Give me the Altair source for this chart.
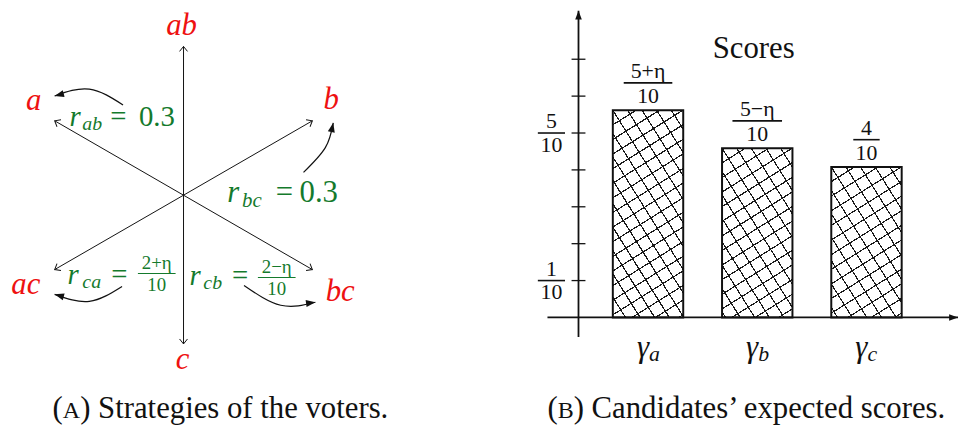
import math
import altair as alt
import pandas as pd

SERIF = "Liberation Serif"
RED = "#ee1111"
GREEN = "#147a2c"
BLACK = "#111111"

# ---------------- Panel A: strategies of the voters ----------------
strategies = ["ab", "a", "b", "ac", "bc", "c"]
strategy_angles = [90, 150, 30, 210, 330, 270]          # direction of each arm (deg, ccw)
ARM = 150                                                # arm length (diagram px)
label_x = [-2, -151, 149, -159, 158, -1]                 # red label anchors (diagram px)
label_y = [162, 86, 87, -100, -107, -175]

# rate annotations, split in pieces: text, x, y, font size, italic
rate_text = ["r", "ab", "=", "0.3", "r", "bc", "=", "0.3", "r", "ca", "=", "r", "cb", "="]
rate_x = [-115, -102, -74, -45, 44, 59, 93, 117, -117, -102, -73, 6, 20, 49]
rate_y = [70, 66, 70, 70, -7, -12, -7, -7, -90, -94, -90, -91, -95, -91]
rate_size = [29, 20, 29, 29, 31, 21, 31, 31, 29, 20, 29, 29, 20, 29]
rate_italic = [1, 1, 0, 0, 1, 1, 0, 0, 1, 1, 0, 1, 1, 0]

# fractional rates: centre x, fraction-line y, numerator, denominator, half width
fracA_cx = [-27, 94]
fracA_ly = [-79, -83]
fracA_num = ["2+η", "2−η"]
fracA_den = ["10", "10"]
fracA_hw = [19, 19]

# curved arrows (three guide points each) and arrow-head angles
curve_names = ["ab", "bc", "ca", "cb"]
curve_px = [[-61, -95, -130], [121, 143, 151], [-62, -95, -130], [61, 98, 133]]
curve_py = [[91, 107, 100], [23, 48, 73], [-92, -107, -100], [-91, -111, -108]]
curve_head_angle = [165, 282, 195, 352]

# ---------------- Panel B: candidates' expected scores ----------------
candidates = ["a", "b", "c"]
candidate_pos = [1, 2, 3]
scores = [0.562, 0.459, 0.408]
score_num = ["5+η", "5−η", "4"]
score_den = ["10", "10", "10"]
score_frac_hw_px = [24.5, 25, 13.3]
ytick_values = [0.1, 0.2, 0.3, 0.4, 0.5, 0.6, 0.7]
ylabel_values = [0.1, 0.5]
ylabel_num = ["1", "5"]
ylabel_den = ["10", "10"]

# captions: opening bracket, small-caps letter, rest
caption_parts_a = ["(", "A", ") Strategies of the voters."]
caption_parts_b = ["(", "B", ") Candidates’ expected scores."]

# ---------------- scales ----------------
def scale(domain, rng):
    return alt.Scale(domain=domain, range=rng, nice=False, zero=False)

xA = scale([0, 150], [177, 327])
yA = scale([0, 150], [187, 37])
PXU = 110.15            # px per category slot in panel B
PXV = 372.0             # px per score unit
xB = scale([1, 3], [645.4, 645.4 + 2 * PXU])
yB = scale([0, 0.8], [310.3, 310.3 - 0.8 * PXV])

OPEN_HEAD = "M-1,-0.8L0,0L-1,0.8"
FILLED_HEAD = "M0,0L-2,-0.75L-2,0.75Z"


def XA(f):
    return alt.X(f, scale=xA, axis=None)


def YA(f):
    return alt.Y(f, scale=yA, axis=None)


def XB(f):
    return alt.X(f, scale=xB, axis=None)


def YB(f):
    return alt.Y(f, scale=yB, axis=None)


def caption(parts, x0, y0, size):
    w_paren = 0.333 * size
    sc = size * 0.78
    w_cap = {"A": 0.722, "B": 0.667}[parts[1]] * sc
    df = pd.DataFrame({"t": parts})
    layers = []
    xs = [x0, x0 + w_paren, x0 + w_paren + w_cap]
    sizes = [size, sc, size]
    for i in range(3):
        layers.append(alt.Chart(df).transform_filter(f"datum.t == {parts[i]!r}").mark_text(
            font=SERIF, fontSize=sizes[i], align="left", baseline="alphabetic", color=BLACK).encode(
            x=alt.value(xs[i]), y=alt.value(y0), text="t:N"))
    return layers


# ---------------- Panel A layers ----------------
arm_df = pd.DataFrame({"name": strategies, "theta": strategy_angles})
arm_base = alt.Chart(arm_df).transform_calculate(
    o="0",
    ex=f"{ARM}*cos(datum.theta*PI/180)",
    ey=f"{ARM}*sin(datum.theta*PI/180)",
    ang="(360 - datum.theta) % 360",
)
arms = arm_base.mark_rule(color=BLACK, strokeWidth=1).encode(
    x=XA("o:Q"), y=YA("o:Q"), x2="ex:Q", y2="ey:Q")
arm_heads = arm_base.mark_point(shape=OPEN_HEAD, size=100, filled=False, color=BLACK,
                                strokeWidth=1, opacity=1).encode(
    x=XA("ex:Q"), y=YA("ey:Q"), angle=alt.Angle("ang:Q", scale=None))

lab_df = pd.DataFrame({"t": strategies, "x": label_x, "y": label_y})
red_labels = alt.Chart(lab_df).mark_text(font=SERIF, fontSize=31, fontStyle="italic", color=RED,
                                         align="center", baseline="alphabetic").encode(
    x=XA("x:Q"), y=YA("y:Q"), text="t:N")

rate_df = pd.DataFrame({"t": rate_text, "x": rate_x, "y": rate_y, "s": rate_size, "it": rate_italic})
rate_it = alt.Chart(rate_df).transform_filter("datum.it == 1").mark_text(
    font=SERIF, fontStyle="italic", color=GREEN, align="left", baseline="alphabetic").encode(
    x=XA("x:Q"), y=YA("y:Q"), text="t:N", size=alt.Size("s:Q", scale=None))
rate_up = alt.Chart(rate_df).transform_filter("datum.it == 0").mark_text(
    font=SERIF, color=GREEN, align="left", baseline="alphabetic").encode(
    x=XA("x:Q"), y=YA("y:Q"), text="t:N", size=alt.Size("s:Q", scale=None))

fa_df = pd.DataFrame({"cx": fracA_cx, "ly": fracA_ly, "num": fracA_num, "den": fracA_den, "hw": fracA_hw})
fa_base = alt.Chart(fa_df).transform_calculate(l="datum.cx - datum.hw", r="datum.cx + datum.hw")
fa_line = fa_base.mark_rule(color=GREEN, strokeWidth=1.1).encode(x=XA("l:Q"), x2="r:Q", y=YA("ly:Q"))
fa_num = fa_base.mark_text(font=SERIF, fontSize=19, color=GREEN, align="center",
                           baseline="alphabetic", dy=-5).encode(x=XA("cx:Q"), y=YA("ly:Q"), text="num:N")
fa_den = fa_base.mark_text(font=SERIF, fontSize=19, color=GREEN, align="center",
                           baseline="alphabetic", dy=18).encode(x=XA("cx:Q"), y=YA("ly:Q"), text="den:N")

rows = []
for name, xs, ys in zip(curve_names, curve_px, curve_py):
    for k, (cx, cy) in enumerate(zip(xs, ys)):
        rows.append({"curve": name, "k": k, "x": cx, "y": cy})
curve_df = pd.DataFrame(rows)
curves = alt.Chart(curve_df).mark_line(interpolate="natural", color=BLACK, strokeWidth=1.2).encode(
    x=XA("x:Q"), y=YA("y:Q"), detail="curve:N", order="k:Q")
head_df = pd.DataFrame({"curve": curve_names,
                        "x": [p[-1] for p in curve_px],
                        "y": [p[-1] for p in curve_py],
                        "ang": curve_head_angle})
curve_heads = alt.Chart(head_df).mark_point(shape=FILLED_HEAD, size=90, filled=True, color=BLACK,
                                            opacity=1).encode(
    x=XA("x:Q"), y=YA("y:Q"), angle=alt.Angle("ang:Q", scale=None))

panel_a = alt.layer(arms, arm_heads, curves, curve_heads, red_labels, rate_it, rate_up,
                    fa_line, fa_num, fa_den, *caption(caption_parts_a, 45, 411.5, 31))


# ---------------- Panel B layers ----------------
BAR_HALF = 71.0 / 2 / PXU
YAXIS_U = 1 + (575.3 - 645.4) / PXU
TICK_HALF = 7.0 / PXU
YLAB_U = 1 + (548 - 645.4) / PXU
YLAB_HW = 13.7 / PXU


def hatch_gradient(w, h, phi_deg, spacing, lw, bg, fg):
    phi = math.radians(phi_deg)
    nx, ny = -math.sin(phi), math.cos(phi)
    corners = [(0, 0), (w, 0), (0, h), (w, h)]
    svals = [cx * nx + cy * ny for cx, cy in corners]
    i = min(range(4), key=lambda j: svals[j])
    smin, smax = svals[i], max(svals)
    L = smax - smin
    c = L / (w * w * nx * nx + h * h * ny * ny)
    p0 = (corners[i][0] / w, corners[i][1] / h)
    p1 = (p0[0] + c * w * nx, p0[1] + c * h * ny)
    half = lw / 2 / L
    stops = [alt.GradientStop(offset=0, color=bg)]
    k = math.ceil(smin / spacing)
    while True:
        t = (k * spacing - smin) / L
        if t + half >= 1:
            break
        if t - half > 0:
            stops += [alt.GradientStop(offset=t - half, color=bg),
                      alt.GradientStop(offset=t - half, color=fg),
                      alt.GradientStop(offset=t + half, color=fg),
                      alt.GradientStop(offset=t + half, color=bg)]
        k += 1
    stops.append(alt.GradientStop(offset=1, color=bg))
    return alt.LinearGradient(gradient="linear", stops=stops,
                              x1=p0[0], y1=p0[1], x2=p1[0], y2=p1[1])


bar_df = pd.DataFrame({"cand": candidates, "u": candidate_pos, "score": scores,
                       "num": score_num, "den": score_den,
                       "fhw": [v / PXU for v in score_frac_hw_px]})
bar_base = alt.Chart(bar_df).transform_calculate(
    x0=f"datum.u - {BAR_HALF}", x1=f"datum.u + {BAR_HALF}", zero="0",
    fl="datum.u - datum.fhw", fr="datum.u + datum.fhw")

bar_layers = []
for cand, val in zip(candidates, scores):
    w = 2 * BAR_HALF * PXU
    h = val * PXV
    g1 = hatch_gradient(w, h, 58, 12.5, 1.2, "#ffffff", "#1a1a1a")
    g2 = hatch_gradient(w, h, -32, 12.5, 1.2, "rgba(255,255,255,0)", "#1a1a1a")
    sub = bar_base.transform_filter(f"datum.cand == '{cand}'")
    bar_layers.append(sub.mark_rect(fill=g1, strokeWidth=0).encode(
        x=XB("x0:Q"), x2="x1:Q", y=YB("zero:Q"), y2="score:Q"))
    bar_layers.append(sub.mark_rect(fill=g2, stroke=BLACK, strokeWidth=2).encode(
        x=XB("x0:Q"), x2="x1:Q", y=YB("zero:Q"), y2="score:Q"))

score_line = bar_base.mark_rule(color=BLACK, strokeWidth=1.6, yOffset=-27.5).encode(
    x=XB("fl:Q"), x2="fr:Q", y=YB("score:Q"))
score_numt = bar_base.mark_text(font=SERIF, fontSize=22, color=BLACK, align="center",
                                baseline="alphabetic", dy=-32.5).encode(
    x=XB("u:Q"), y=YB("score:Q"), text="num:N")
score_dent = bar_base.mark_text(font=SERIF, fontSize=22, color=BLACK, align="center",
                                baseline="alphabetic", dy=-7.5).encode(
    x=XB("u:Q"), y=YB("score:Q"), text="den:N")
gamma = bar_base.mark_text(font=SERIF, fontSize=31, fontStyle="italic", color=BLACK, align="right",
                           baseline="alphabetic", dy=40, dx=1).encode(
    x=XB("u:Q"), y=YB("zero:Q"), text=alt.value("γ"))
gamma_sub = bar_base.mark_text(font=SERIF, fontSize=22, fontStyle="italic", color=BLACK, align="left",
                               baseline="alphabetic", dy=44, dx=1).encode(
    x=XB("u:Q"), y=YB("zero:Q"), text="cand:N")

axis_df = pd.DataFrame({"ax": ["y", "x"],
                        "xa": [YAXIS_U, 1 + (544 - 645.4) / PXU],
                        "xb": [YAXIS_U, 1 + (958 - 645.4) / PXU],
                        "ya": [-0.053, 0.0],
                        "yb": [(310.3 - 1) / PXV, 0.0],
                        "ang": [270, 0]})
axes_b = alt.Chart(axis_df).mark_rule(color=BLACK, strokeWidth=1.8).encode(
    x=XB("xa:Q"), x2="xb:Q", y=YB("ya:Q"), y2="yb:Q")
axes_heads = alt.Chart(axis_df).mark_point(shape=FILLED_HEAD, size=80, filled=True, color=BLACK,
                                           opacity=1).encode(
    x=XB("xb:Q"), y=YB("yb:Q"), angle=alt.Angle("ang:Q", scale=None))

tick_df = pd.DataFrame({"v": ytick_values})
ticks = alt.Chart(tick_df).transform_calculate(
    l=f"{YAXIS_U - TICK_HALF}", r=f"{YAXIS_U + TICK_HALF}").mark_rule(
    color=BLACK, strokeWidth=1.3).encode(x=XB("l:Q"), x2="r:Q", y=YB("v:Q"))

yl_df = pd.DataFrame({"v": ylabel_values, "num": ylabel_num, "den": ylabel_den})
yl_base = alt.Chart(yl_df).transform_calculate(
    c=f"{YLAB_U}", l=f"{YLAB_U - YLAB_HW}", r=f"{YLAB_U + YLAB_HW}")
yl_line = yl_base.mark_rule(color=BLACK, strokeWidth=1.6).encode(x=XB("l:Q"), x2="r:Q", y=YB("v:Q"))
yl_num = yl_base.mark_text(font=SERIF, fontSize=22, color=BLACK, align="center",
                           baseline="alphabetic", dy=-5).encode(x=XB("c:Q"), y=YB("v:Q"), text="num:N")
yl_den = yl_base.mark_text(font=SERIF, fontSize=22, color=BLACK, align="center",
                           baseline="alphabetic", dy=19).encode(x=XB("c:Q"), y=YB("v:Q"), text="den:N")

scores_title = alt.Chart(pd.DataFrame({"t": ["Scores"]})).mark_text(
    font=SERIF, fontSize=31, color=BLACK, align="center", baseline="alphabetic").encode(
    x=alt.value(752), y=alt.value(48.7), text="t:N")

panel_b = alt.layer(*bar_layers, axes_b, axes_heads, ticks, yl_line, yl_num, yl_den,
                    score_line, score_numt, score_dent, gamma, gamma_sub, scores_title,
                    *caption(caption_parts_b, 544, 411.5, 31))

chart = alt.layer(panel_a, panel_b).resolve_scale(x="independent", y="independent").properties(
    width=959, height=419, padding=0,
    autosize=alt.AutoSizeParams(type="none"),
    background="white",
).configure_view(stroke=None)

chart.save("out.html", embed_options={"renderer": "svg", "actions": False})
